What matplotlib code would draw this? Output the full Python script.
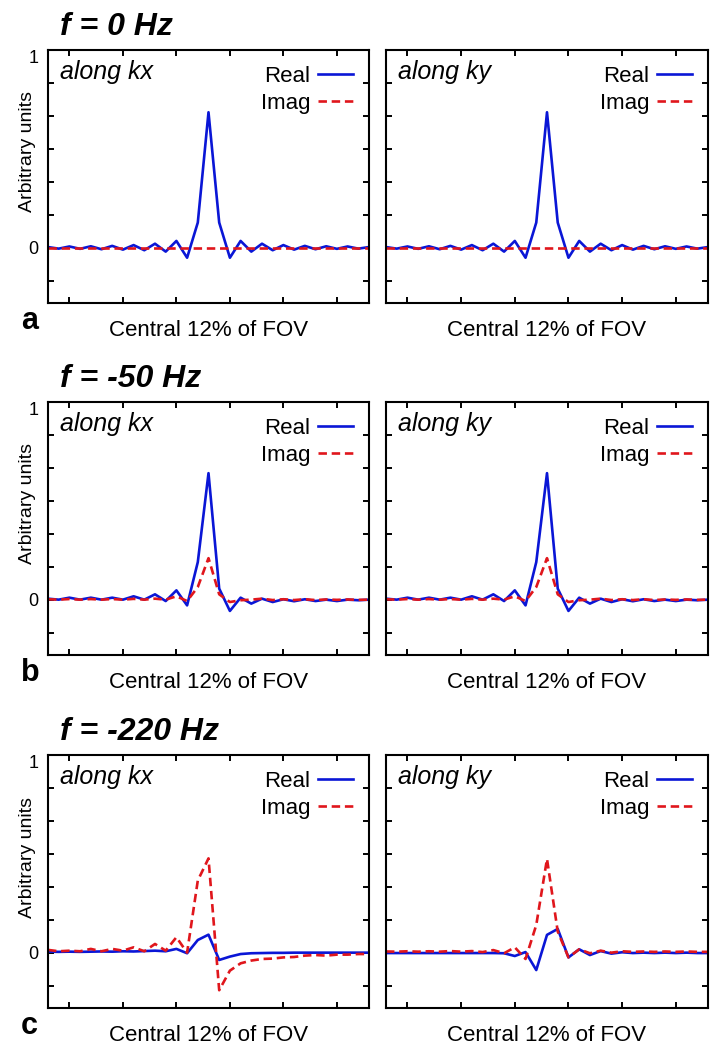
import numpy as np
import matplotlib
matplotlib.use("Agg")
import matplotlib.pyplot as plt

plt.rcParams['font.family'] = ['Liberation Sans', 'DejaVu Sans']

# sample index across the central 12% of the FOV
pos = np.arange(31)

# f = 0 Hz
real_a_kx = [0.003, -0.005, 0.006, -0.006, 0.007, -0.008, 0.009, -0.010, 0.013, -0.013,
             0.020, -0.020, 0.034, -0.051, 0.127, 0.685, 0.127, -0.051, 0.034, -0.020,
             0.020, -0.013, 0.013, -0.010, 0.009, -0.008, 0.007, -0.006, 0.006, -0.005, 0.003]
imag_a_kx = [0.0] * 31
real_a_ky = real_a_kx
imag_a_ky = imag_a_kx

# f = -50 Hz
real_b_kx = [0.005, 0.000, 0.010, 0.000, 0.010, 0.000, 0.010, 0.000, 0.017, 0.000,
             0.027, -0.007, 0.047, -0.029, 0.190, 0.640, 0.056, -0.057, 0.010, -0.020,
             0.005, -0.012, 0.002, -0.008, 0.002, -0.007, 0.000, -0.007, 0.000, -0.003, 0.000]
imag_b_kx = [0.002, 0.000, 0.003, 0.000, 0.003, 0.000, 0.003, 0.000, 0.004, 0.000,
             0.005, 0.000, 0.017, -0.007, 0.064, 0.210, 0.027, -0.012, -0.003, 0.000,
             0.005, -0.002, 0.002, -0.002, 0.002, -0.002, 0.001, -0.001, 0.001, -0.001, 0.000]
real_b_ky = real_b_kx
imag_b_ky = imag_b_kx

# f = -220 Hz
real_c_kx = [0.005, 0.004, 0.005, 0.004, 0.005, 0.006, 0.005, 0.007, 0.006, 0.008,
             0.010, 0.007, 0.019, -0.003, 0.064, 0.091, -0.037, -0.020, -0.007, -0.003,
             -0.002, -0.001, -0.001, 0.000, 0.000, 0.000, 0.000, 0.000, 0.000, 0.000, 0.000]
imag_c_kx = [0.014, 0.007, 0.010, 0.007, 0.019, 0.007, 0.019, 0.010, 0.027, 0.007,
             0.044, 0.010, 0.078, 0.000, 0.365, 0.477, -0.190, -0.091, -0.054, -0.040,
             -0.032, -0.030, -0.024, -0.022, -0.015, -0.012, -0.015, -0.010, -0.010, -0.007, -0.007]
real_c_ky = [-0.002, -0.002, -0.002, -0.002, -0.002, -0.002, -0.002, -0.002, -0.002, -0.002,
             -0.002, -0.003, -0.017, 0.003, -0.088, 0.090, 0.120, -0.024, 0.017, -0.012,
             0.008, -0.005, 0.002, -0.002, 0.000, -0.002, 0.000, -0.002, 0.000, -0.002, -0.002]
imag_c_ky = [0.006, 0.005, 0.007, 0.005, 0.007, 0.005, 0.008, 0.005, 0.008, 0.003,
             0.013, -0.003, 0.027, -0.032, 0.140, 0.474, 0.107, -0.024, 0.017, -0.003,
             0.010, 0.000, 0.007, 0.004, 0.006, 0.004, 0.006, 0.004, 0.006, 0.004, 0.004]

rows = [
    ("f = 0 Hz", "a", (real_a_kx, imag_a_kx), (real_a_ky, imag_a_ky)),
    ("f = -50 Hz", "b", (real_b_kx, imag_b_kx), (real_b_ky, imag_b_ky)),
    ("f = -220 Hz", "c", (real_c_kx, imag_c_kx), (real_c_ky, imag_c_ky)),
]
directions = ["along kx", "along ky"]

W, H = 725, 1050
fig = plt.figure(figsize=(W / 100, H / 100), dpi=100)

col_left = [48, 386]
col_width = [321, 322]
row_top = [50, 402, 755]
row_height = 253

blue = '#0a16d6'
red = '#e0161c'
yticks = [-1 / 6, 0, 1 / 6, 2 / 6, 3 / 6, 4 / 6, 5 / 6, 1]

for r, (title, letter, kx, ky) in enumerate(rows):
    top = row_top[r]
    bottom = top + row_height
    for c, (real, imag) in enumerate([kx, ky]):
        ax = fig.add_axes([col_left[c] / W, 1 - bottom / H, col_width[c] / W, row_height / H])
        ax.plot(pos, real, color=blue, lw=1.9, label='Real')
        ax.plot(pos, imag, color=red, lw=1.9, dashes=(3.2, 1.8), label='Imag')
        ax.set_xlim(0, 30)
        ax.set_ylim(-0.28, 1.0)
        ax.set_xticks([2, 7, 12, 17, 22, 27])
        ax.set_xticklabels([])
        ax.set_yticks(yticks)
        if c == 0:
            ax.set_yticklabels(['', '0', '', '', '', '', '', '1'], fontsize=13)
            ax.get_yticklabels()[-1].set_va('top')
        else:
            ax.set_yticklabels([])
        ax.tick_params(direction='in', length=4, width=1.4, top=True, right=True, pad=7)
        for s in ax.spines.values():
            s.set_linewidth(1.5)
        ax.text(0.037, 0.885, directions[c], transform=ax.transAxes,
                fontsize=18, style='italic', va='baseline')
        ax.legend(loc='upper right', frameon=False, markerfirst=False, fontsize=16,
                  handlelength=1.6, handletextpad=0.35, labelspacing=0.28,
                  borderaxespad=0.4, borderpad=0.3)
        ax.set_xlabel("Central 12% of FOV", fontsize=16, labelpad=5)

    fig.text(60 / W, 1 - (top - 15) / H, title, fontsize=23, fontweight='bold',
             style='italic', va='baseline')
    fig.text(21 / W, 1 - (bottom + 26) / H, letter, fontsize=22, fontweight='bold',
             va='baseline')
    fig.text(28 / W, 1 - (top + 102) / H, "Arbitrary units", fontsize=14,
             rotation=90, ha='center', va='center')

fig.savefig("out.png", dpi=100)
